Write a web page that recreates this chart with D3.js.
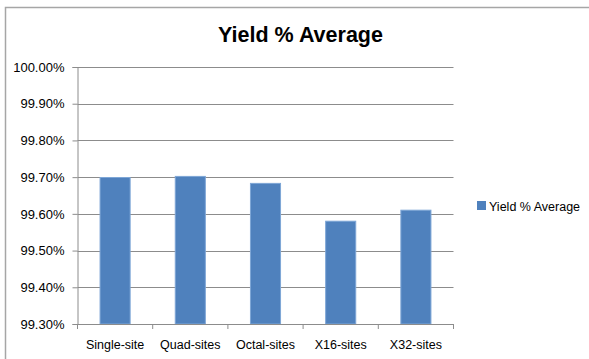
<!DOCTYPE html>
<html><head><meta charset="utf-8">
<script src="https://cdn.jsdelivr.net/npm/d3@7"></script>
<style>body{margin:0;background:#fff}svg{display:block}text{font-family:"Liberation Sans",Arial,sans-serif;fill:#000}</style>
</head><body>
<script>
const categories = ["Single-site","Quad-sites","Octal-sites","X16-sites","X32-sites"];
const yieldAvg = [99.699, 99.702, 99.683, 99.58, 99.61];
const yTicks = [99.3,99.4,99.5,99.6,99.7,99.8,99.9,100.0];
const seriesName = "Yield % Average";
const titleText = "Yield % Average";

const W=589,H=359;
const svg=d3.select("body").append("svg").attr("width",W).attr("height",H);
// outer frame (left + top visible)
svg.append("path").attr("d","M5.5,359 V7.5 H589").attr("fill","none").attr("stroke","#a6a6a6").attr("stroke-width",1.5);

const pL=77.5,pR=453.5,pT=67,pB=324;
const x=d3.scaleBand().domain(categories).range([pL,pR]).paddingInner(0.6).paddingOuter(0.3);
const y=d3.scaleLinear().domain([99.3,100.0]).range([pB,pT]);

// gridlines
svg.append("g").selectAll("line").data(yTicks.slice(1)).join("line")
  .attr("x1",pL).attr("x2",pR).attr("y1",d=>Math.round(y(d))+0.5).attr("y2",d=>Math.round(y(d))+0.5)
  .attr("stroke","#8c8c8c").attr("stroke-width",1);

// bars
svg.append("g").selectAll("rect").data(yieldAvg).join("rect")
  .attr("x",(d,i)=>x(categories[i])).attr("width",x.bandwidth())
  .attr("y",d=>y(d)).attr("height",d=>pB-y(d))
  .attr("fill","#4f81bd").attr("stroke","#7ea6d6").attr("stroke-width",1);

// y axis
const ya=svg.append("g").attr("transform",`translate(${pL},0)`)
  .call(d3.axisLeft(y).tickValues(yTicks).tickSize(5).tickPadding(7).tickFormat(d=>d.toFixed(2)+"%"));
ya.select(".domain").attr("stroke","#8c8c8c");
ya.selectAll(".tick line").attr("stroke","#8c8c8c");
ya.selectAll("text").attr("font-size","13px").attr("font-family","Liberation Sans, Arial, sans-serif").attr("fill","#000").attr("dx","-1");

// x axis
const xPos=d3.scalePoint().domain(d3.range(categories.length+1)).range([pL,pR]);
const xa=svg.append("g").attr("transform",`translate(0,${pB})`);
xa.append("line").attr("x1",pL).attr("x2",pR).attr("y1",0.5).attr("y2",0.5).attr("stroke","#8c8c8c");
xa.selectAll("line.tk").data(d3.range(categories.length+1)).join("line").attr("class","tk")
  .attr("x1",d=>xPos(d)).attr("x2",d=>xPos(d)).attr("y1",0).attr("y2",5).attr("stroke","#8c8c8c");
xa.selectAll("text").data(categories).join("text")
  .attr("x",d=>x(d)+x.bandwidth()/2).attr("y",25).attr("text-anchor","middle")
  .attr("font-size","12.5px").text(d=>d);

// title
svg.append("text").attr("x",300.5).attr("y",42).attr("text-anchor","middle")
  .attr("font-size","21.5px").attr("font-weight","bold").text(titleText);

// legend
const lg=svg.append("g").attr("transform","translate(477,201)");
lg.append("rect").attr("width",9).attr("height",9).attr("fill","#4f81bd");
lg.append("text").attr("x",12).attr("y",9.5).attr("font-size","12.5px").text(seriesName);
</script>
</body></html>
